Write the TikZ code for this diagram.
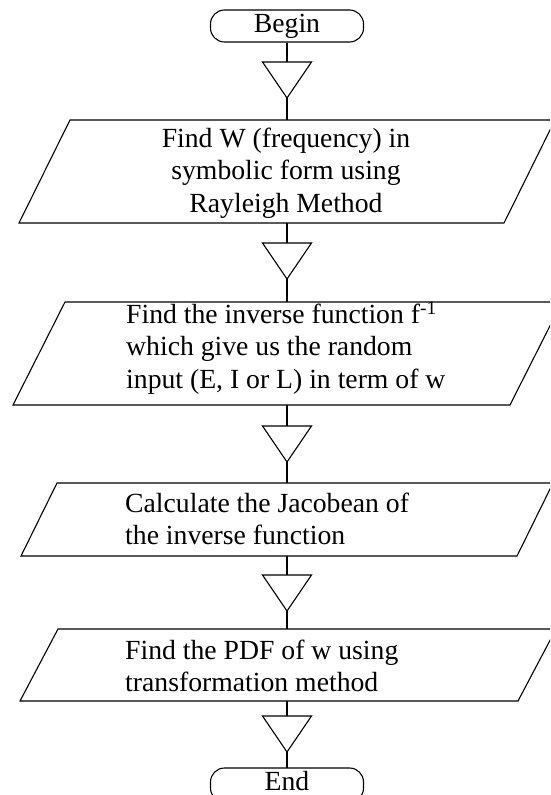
\documentclass[tikz,border=0pt]{standalone}
\usepackage{fontspec}
\setmainfont{Liberation Serif}
\begin{document}
\begin{tikzpicture}[x=1pt,y=-1pt,
  outline/.style={draw=black, line width=1.1pt, line join=miter},
  term/.style={outline, rounded corners=14pt, minimum width=153pt, minimum height=32pt, inner sep=0pt},
  txt/.style={inner sep=0pt, font=\fontsize{27.7}{32.5}\selectfont},
  conn/.style={draw=black, line width=1.1pt}]
\useasboundingbox (0,0) rectangle (550,795);
\clip (0,0) rectangle (550,795);

% terminals
\node[term, txt, outline] (begin) at (287,26) {Begin};
\draw[outline, rounded corners=14pt] (210.5,768) rectangle (363.5,802);
\coordinate (endtop) at (287,768);
\node[txt] (end) at (287,781) {End};

% parallelograms
\draw[outline] (19,223) -- (504,223) -- (555,120) -- (70,120) -- cycle;
\draw[outline] (13,405) -- (510,405) -- (562,302) -- (65,302) -- cycle;
\draw[outline] (21,556) -- (517,556) -- (553,483) -- (57,483) -- cycle;
\draw[outline] (20,701) -- (518,701) -- (556,629) -- (58,629) -- cycle;
\coordinate (p1n) at (287,120); \coordinate (p1s) at (287,223);
\coordinate (p2n) at (287,302); \coordinate (p2s) at (287,405);
\coordinate (p3n) at (287,483); \coordinate (p3s) at (287,556);
\coordinate (p4n) at (287,629); \coordinate (p4s) at (287,701);

% texts
\node[txt, align=center] (t1) at (286,173) {Find W (frequency) in\\symbolic form using\\Rayleigh Method};
\node[txt, align=left, anchor=west] (t2) at (126,348) {Find the inverse function f\textsuperscript{-1}\\which give us the random\\input (E, I or L) in term of w};
\node[txt, align=left, anchor=west] (t3) at (125,519) {Calculate the Jacobean of\\the inverse function};
\node[txt, align=left, anchor=west] (t4) at (125,666) {Find the PDF of w using\\transformation method};

% triangles
\foreach \n/\y in {1/62,2/243,3/426,4/575,5/716}{
  \coordinate (tri\n top) at (287,\y);
  \coordinate (tri\n tip) at (287,\y+36);
  \draw[outline] (262.5,\y) -- (311.5,\y) -- (287,\y+36) -- cycle;
}

% connectors
\draw[conn] (begin.south) -- (tri1top);
\draw[conn] (tri1tip) -- (p1n);
\draw[conn] (p1s) -- (tri2top);
\draw[conn] (tri2tip) -- (p2n);
\draw[conn] (p2s) -- (tri3top);
\draw[conn] (tri3tip) -- (p3n);
\draw[conn] (p3s) -- (tri4top);
\draw[conn] (tri4tip) -- (p4n);
\draw[conn] (p4s) -- (tri5top);
\draw[conn] (tri5tip) -- (endtop);
\end{tikzpicture}
\end{document}
